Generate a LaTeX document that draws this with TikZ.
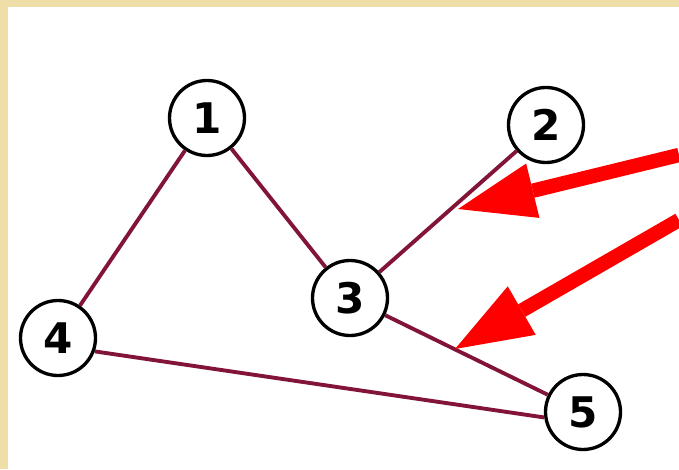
\documentclass[tikz,border=0pt]{standalone}
\usepackage{fontspec}
\setmainfont{DejaVu Sans}
\usetikzlibrary{arrows.meta}
\definecolor{framecol}{RGB}{240,222,168}
\definecolor{edgecol}{RGB}{130,20,55}
\tikzset{
  vert/.style={circle,draw,line width=1.9pt,fill=white,minimum size=1.5cm,
    inner sep=0pt,font=\fontsize{24}{24}\selectfont\bfseries},
  link/.style={draw=edgecol,line width=2.2pt},
  pointer/.style={draw=red,line width=8.2pt,
    -{Triangle[length=1.54cm,width=1.12cm,line width=0pt]}}
}
\begin{document}
\begin{tikzpicture}
      \useasboundingbox (0,0) rectangle (13.58,9.38);
      \fill[framecol] (0,0) rectangle (13.58,9.38);
      \fill[white] (.16,0) rectangle (13.58,9.24);
      % vertices
      \node[vert] (v1) at (4.14,7.02) {1};
      \node[vert] (v2) at (10.92,6.88) {2};
      \node[vert] (v3) at (7,3.42) {3};
      \node[vert] (v4) at (1.16,2.62) {4};
      \node[vert] (v5) at (11.66,1.14) {5};
      % edges
      \draw[link] (v1) -- (v4);
      \draw[link] (v1) -- (v3);
      \draw[link] (v2) -- (v3);
      \draw[link] (v3) -- (v5);
      \draw[link] (v4.-20) -- (v5.188);
      % pointers
      \coordinate (p1) at (13.58,6.28);
      \coordinate (q1) at (9.16,5.2);
      \coordinate (p2) at (13.58,4.98);
      \coordinate (q2) at (9.1,2.4);
      \draw[pointer] (p1) -- (q1);
      \draw[pointer] (p2) -- (q2);
    \end{tikzpicture}
\end{document}
